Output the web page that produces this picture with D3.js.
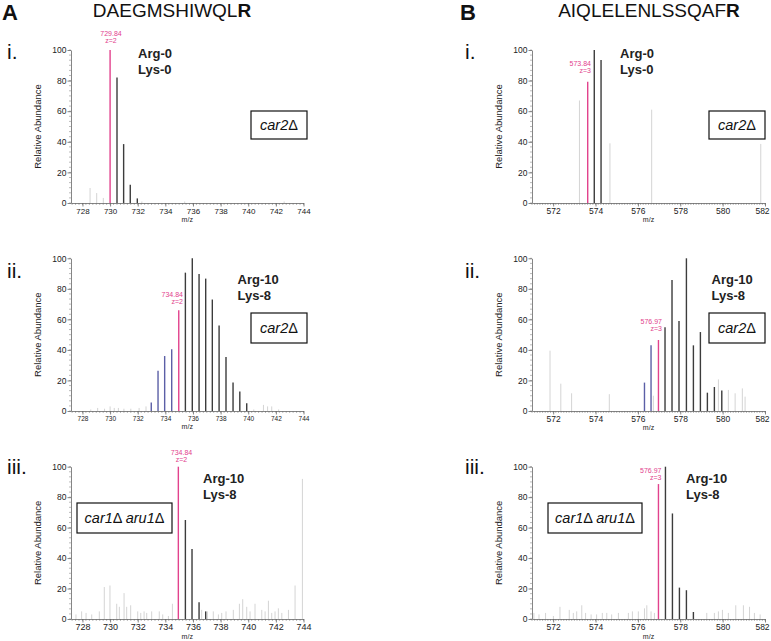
<!DOCTYPE html>
<html>
<head>
<meta charset="utf-8">
<script src="https://cdn.jsdelivr.net/npm/d3@7"></script>
<style>
  body { margin: 0; background: #fff; }
  svg { display: block; font-family: "Liberation Sans", Arial, sans-serif; }
</style>
</head>
<body>
<div id="chart"></div>
<script>
// peaks as [m/z, relative abundance]
const aiPink = [[730.0, 100]];
const aiBlack = [[730.5, 82], [730.98, 38.5], [731.46, 12], [731.97, 3]];
const aiFaint = [[728.55, 9.8], [729.03, 6.5], [729.51, 3.3], [732.3, 1], [735.4, 1], [742.6, 1]];

const aiiBlue = [[732.98, 5.5], [733.47, 26.4], [733.95, 36], [734.46, 40.4]];
const aiiPink = [[734.97, 66]];
const aiiBlack = [[735.45, 90.6], [735.95, 100], [736.44, 89.7], [736.92, 86.7], [737.40, 73],
  [737.89, 56], [738.39, 35.4], [738.90, 18.6], [739.39, 12.7], [739.89, 5]];
const aiiFaint = [[728.6, 1], [729.1, 2], [729.6, 1.5], [730.0, 3], [730.3, 2], [730.6, 2], [731.0, 1.5],
  [731.5, 1.5], [732.1, 2], [732.6, 3], [740.4, 1], [741.1, 4], [741.4, 3], [741.7, 3], [742.2, 1]];

const aiiiPink = [[734.94, 100]];
const aiiiBlack = [[735.45, 65], [735.93, 46], [736.44, 11], [736.92, 5]];
const aiiiFaint = [[727.53, 3], [727.94, 5], [728.26, 4], [728.67, 3], [729.22, 5], [729.58, 21], [729.99, 22],
  [730.48, 10], [730.67, 8], [731.01, 17], [731.2, 8], [731.49, 9], [732.0, 5], [732.22, 4], [732.46, 5],
  [732.65, 4], [733.01, 5], [733.56, 5], [733.81, 3], [734.22, 2], [734.51, 10], [736.63, 6], [737.04, 5],
  [737.47, 5], [737.84, 3], [738.08, 4], [738.39, 5], [738.92, 6], [739.36, 10], [739.6, 13], [739.89, 8],
  [740.13, 5], [740.49, 10], [740.98, 6], [741.22, 5], [741.46, 12], [741.7, 4], [741.94, 5], [742.18, 7],
  [742.43, 4], [742.91, 6], [743.39, 22], [743.92, 92]];

const biPink = [[573.63, 79.3]];
const biBlack = [[573.94, 100], [574.26, 93.5]];
const biFaint = [[573.24, 67], [574.68, 39], [576.65, 61], [581.8, 38.6]];

const biiBlue = [[576.31, 18.6], [576.62, 43]];
const biiPink = [[576.97, 46.5]];
const biiBlack = [[577.28, 54.8], [577.61, 85.8], [577.94, 59], [578.29, 100], [578.62, 43],
  [578.95, 51.7], [579.28, 12], [579.61, 15.7], [579.96, 13.5]];
const biiFaint = [[571.85, 39.5], [572.36, 17.9], [572.87, 11.6], [574.65, 11], [576.73, 10],
  [579.8, 20.7], [580.27, 13.8], [580.59, 11.6], [580.93, 14.8], [581.06, 9.4]];

const biiiPink = [[576.97, 88.6]];
const biiiBlack = [[577.3, 100], [577.63, 69.3], [577.96, 20.6], [578.29, 18.9], [578.62, 4.6]];
const biiiFaint = [[571.09, 4], [571.33, 3], [571.64, 4], [572.01, 2], [572.32, 8], [572.76, 6], [572.95, 4],
  [573.11, 5], [573.35, 9], [573.53, 4], [573.79, 3], [574.05, 3], [574.32, 4], [574.53, 4], [574.76, 3],
  [575.08, 4], [575.55, 4], [575.74, 5], [576.02, 5], [576.31, 7], [576.42, 9], [576.62, 5], [576.78, 4],
  [579.25, 4], [579.61, 4], [579.8, 5], [579.99, 6], [580.27, 4], [580.62, 9], [580.98, 9], [581.27, 8],
  [581.5, 4], [581.77, 3]];

const xTicksA = [728, 730, 732, 734, 736, 738, 740, 742, 744];
const xTicksB = [572, 574, 576, 578, 580, 582];
const yTicks = [0, 20, 40, 60, 80, 100];

const pink = "#e2428d", black = "#3c3c3c", blue = "#5b5fa6", faint = "#d4d4d4";

const svg = d3.select("#chart").append("svg")
  .attr("width", 771).attr("height", 641);

svg.append("rect").attr("width", 771).attr("height", 641).attr("fill", "#fff");

function panel(p) {
  const x = d3.scaleLinear().domain(p.xDomain).range(p.xRange);
  const y = d3.scaleLinear().domain([0, 100]).range(p.yRange);
  const g = svg.append("g");

  // minor ticks
  const minorX = d3.range(Math.ceil(p.xDomain[0] / p.xMinor) * p.xMinor, p.xDomain[1] + 1e-6, p.xMinor);
  g.selectAll(".mx").data(minorX).enter().append("line")
    .attr("x1", d => x(d)).attr("x2", d => x(d))
    .attr("y1", y(0)).attr("y2", y(0) + 2)
    .attr("stroke", "#777").attr("stroke-width", 0.5);
  const minorY = d3.range(0, 100.01, 20 / 6);
  g.selectAll(".my").data(minorY).enter().append("line")
    .attr("x1", p.xRange[0] - 2).attr("x2", p.xRange[0])
    .attr("y1", d => y(d)).attr("y2", d => y(d))
    .attr("stroke", "#777").attr("stroke-width", 0.5);

  // axes
  const xAxis = g.append("g")
    .attr("transform", `translate(0,${y(0)})`)
    .call(d3.axisBottom(x).tickValues(p.xTicks).tickSize(3.5).tickPadding(1.5).tickSizeOuter(0));
  xAxis.selectAll("text").style("font-size", p.xFont + "px").attr("fill", "#222")
    .attr("dx", d => x(d) > 755 ? -3 : 0);
  const yAxis = g.append("g")
    .attr("transform", `translate(${p.xRange[0]},0)`)
    .call(d3.axisLeft(y).tickValues(yTicks).tickSize(3.5).tickPadding(1).tickSizeOuter(0));
  yAxis.selectAll("text").style("font-size", "8.5px").attr("fill", "#222");
  g.selectAll(".domain, .tick line").attr("stroke", "#666").attr("stroke-width", 0.8);

  // peaks
  const groups = [[p.faint, faint, 1], [p.blue || [], blue, 1.4], [p.black, black, 1.4], [p.pink, pink, 1.4]];
  groups.forEach(([data, col, w]) => {
    g.selectAll(null).data(data).enter().append("line")
      .attr("x1", d => x(d[0])).attr("x2", d => x(d[0]))
      .attr("y1", y(0)).attr("y2", d => y(d[1]))
      .attr("stroke", col).attr("stroke-width", w);
  });

  // axis titles
  const yMid = (p.yRange[0] + p.yRange[1]) / 2;
  g.append("text")
    .attr("transform", `translate(${p.xRange[0] - 30},${yMid}) rotate(-90)`)
    .attr("text-anchor", "middle")
    .style("font-size", "9.5px")
    .attr("fill", "#222")
    .text("Relative Abundance");
  g.append("text")
    .attr("x", (p.xRange[0] + p.xRange[1]) / 2)
    .attr("y", p.mzY)
    .attr("text-anchor", "middle")
    .style("font-size", "7px")
    .attr("fill", "#222")
    .text("m/z");

  // peak annotation
  const ann = g.append("text")
    .attr("text-anchor", p.annAnchor)
    .style("font-size", "7px")
    .attr("fill", pink);
  ann.append("tspan").attr("x", p.annX).attr("y", p.annY).text(p.annMz);
  ann.append("tspan").attr("x", p.annX).attr("y", p.annY + 7).text(p.annZ);

  // label tags
  const lab = g.append("text").style("font-size", "13px").style("font-weight", "bold").attr("fill", "#222");
  lab.append("tspan").attr("x", p.labX).attr("y", p.labY).text(p.lab[0]);
  lab.append("tspan").attr("x", p.labX).attr("y", p.labY + 16).text(p.lab[1]);

  // strain box
  g.append("rect")
    .attr("x", p.box[0]).attr("y", p.box[1])
    .attr("width", p.box[2]).attr("height", p.box[3])
    .attr("fill", "#fff").attr("stroke", "#111").attr("stroke-width", 1.2);
  const bt = g.append("text")
    .attr("x", p.box[0] + p.box[2] / 2)
    .attr("y", p.box[1] + p.box[3] / 2 + 5)
    .attr("text-anchor", "middle")
    .style("font-size", "14.5px")
    .attr("fill", "#111");
  p.strain.forEach(([t, it]) => {
    bt.append("tspan").style("font-style", it ? "italic" : "normal").text(t);
  });

  // roman numeral
  svg.append("text")
    .attr("x", p.romanX).attr("y", p.romanY)
    .style("font-size", "21px")
    .attr("fill", "#111")
    .text(p.roman);
}

const xA = { xDomain: [727.17, 744], xRange: [71, 303.5], xTicks: xTicksA, xMinor: 0.25 };
const xB = { xDomain: [571, 582], xRange: [532, 765], xTicks: xTicksB, xMinor: 0.125 };
const car2 = [["car2", true], ["\u0394", false]];
const car1aru1 = [["car1", true], ["\u0394 ", false], ["aru1", true], ["\u0394", false]];

panel({ ...xA, yRange: [203, 50], xFont: 8, mzY: 222,
  pink: aiPink, black: aiBlack, faint: aiFaint,
  annMz: "729.84", annZ: "z=2", annX: 111, annAnchor: "middle", annY: 36,
  lab: ["Arg-0", "Lys-0"], labX: 138, labY: 58,
  box: [251, 111, 56, 28], strain: car2, roman: "i.", romanX: 7, romanY: 59 });

panel({ ...xA, yRange: [411, 258.3], xFont: 6.5, mzY: 429,
  pink: aiiPink, black: aiiBlack, blue: aiiBlue, faint: aiiFaint,
  annMz: "734.84", annZ: "z=2", annX: 183, annAnchor: "end", annY: 297,
  lab: ["Arg-10", "Lys-8"], labX: 237.5, labY: 284,
  box: [251, 313, 56, 30], strain: car2, roman: "ii.", romanX: 7, romanY: 278 });

panel({ ...xA, yRange: [619, 466.7], xFont: 9, mzY: 639,
  pink: aiiiPink, black: aiiiBlack, faint: aiiiFaint,
  annMz: "734.84", annZ: "z=2", annX: 181.5, annAnchor: "middle", annY: 455,
  lab: ["Arg-10", "Lys-8"], labX: 203, labY: 483,
  box: [77, 503, 95, 30], strain: car1aru1, roman: "iii.", romanX: 7, romanY: 474 });

panel({ ...xB, yRange: [203, 50], xFont: 8.5, mzY: 222,
  pink: biPink, black: biBlack, faint: biFaint,
  annMz: "573.84", annZ: "z=3", annX: 591, annAnchor: "end", annY: 66,
  lab: ["Arg-0", "Lys-0"], labX: 620, labY: 58,
  box: [709, 111, 56, 28], strain: car2, roman: "i.", romanX: 465, romanY: 59 });

panel({ ...xB, yRange: [411, 258.3], xFont: 8.5, mzY: 430,
  pink: biiPink, black: biiBlack, blue: biiBlue, faint: biiFaint,
  annMz: "576.97", annZ: "z=3", annX: 662, annAnchor: "end", annY: 324,
  lab: ["Arg-10", "Lys-8"], labX: 711.5, labY: 284,
  box: [709, 313, 56, 30], strain: car2, roman: "ii.", romanX: 465, romanY: 278 });

panel({ ...xB, yRange: [619, 466.7], xFont: 8.5, mzY: 639,
  pink: biiiPink, black: biiiBlack, faint: biiiFaint,
  annMz: "576.97", annZ: "z=3", annX: 661.5, annAnchor: "end", annY: 473,
  lab: ["Arg-10", "Lys-8"], labX: 686, labY: 483,
  box: [548, 503, 94, 30], strain: car1aru1, roman: "iii.", romanX: 465, romanY: 474 });

// panel letters and peptide titles
svg.append("text").attr("x", 2).attr("y", 20)
  .style("font-size", "22px").style("font-weight", "bold").attr("fill", "#111").text("A");
svg.append("text").attr("x", 460).attr("y", 20)
  .style("font-size", "22px").style("font-weight", "bold").attr("fill", "#111").text("B");

const titles = [["DAEGMSHIWQL", 172], ["AIQLELENLSSQAF", 649]];
titles.forEach(([t, cx]) => {
  const tt = svg.append("text").attr("x", cx).attr("y", 17)
    .attr("text-anchor", "middle").style("font-size", "19px").attr("fill", "#111");
  tt.append("tspan").text(t);
  tt.append("tspan").style("font-weight", "bold").text("R");
});
</script>
</body>
</html>
